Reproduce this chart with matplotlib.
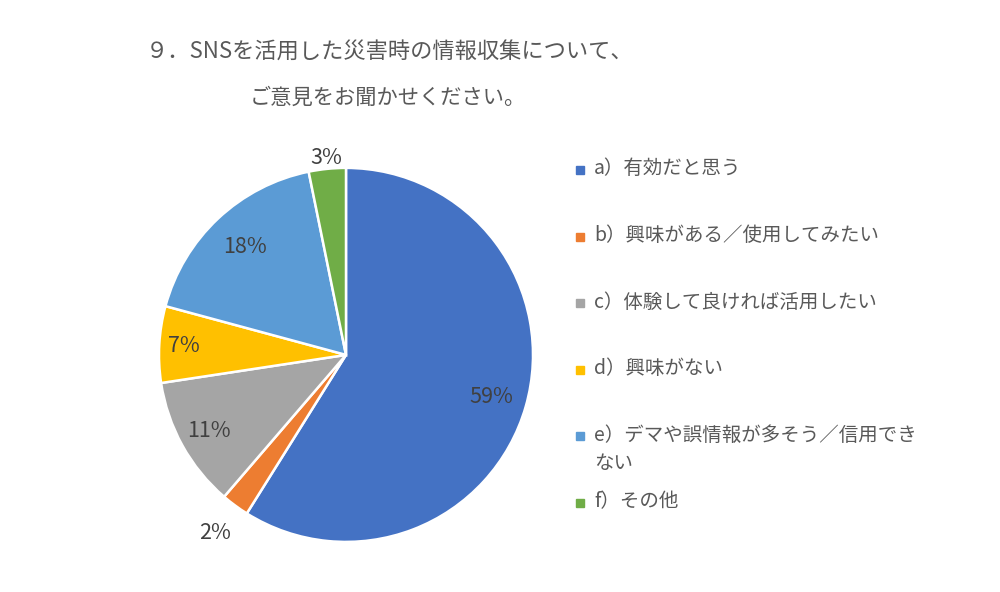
import matplotlib
matplotlib.use("Agg")
import matplotlib.pyplot as plt
from matplotlib.patches import Rectangle
import numpy as np

plt.rcParams['font.family'] = ['Noto Sans CJK JP', 'DejaVu Sans']

# answers (share of respondents, %)
labels = ["a）有効だと思う",
          "b）興味がある／使用してみたい",
          "c）体験して良ければ活用したい",
          "d）興味がない",
          "e）デマや誤情報が多そう／信用でき\nない",
          "f）その他"]
shares = [58.9, 2.4, 11.3, 6.6, 17.6, 3.2]
colors = ["#4472C4", "#ED7D31", "#A5A5A5", "#FFC000", "#5B9BD5", "#70AD47"]
# how far from the centre each % label sits (fraction of radius)
label_dist = [0.81, 1.18, 0.84, 0.87, 0.79, 1.06]

fig = plt.figure(figsize=(10, 5.92), dpi=100)
ax = fig.add_axes([0.159, 0.0845, 0.374, 0.632])

wedges, _ = ax.pie(shares, colors=colors, startangle=90, counterclock=False,
                   wedgeprops=dict(edgecolor="white", linewidth=1.8))
ax.set_xlim(-1, 1)
ax.set_ylim(-1, 1)
ax.set_aspect("equal")

for w, val, d in zip(wedges, shares, label_dist):
    mid = np.deg2rad((w.theta1 + w.theta2) / 2)
    ax.text(d * np.cos(mid), d * np.sin(mid), f"{round(val)}%",
            ha="center", va="center", fontsize=15.5, color="#404040")

# title
fig.text(0.39, 1 - 52 / 592, "９．SNSを活用した災害時の情報収集について、",
         ha="center", va="center", fontsize=16, color="#595959")
fig.text(0.388, 1 - 98 / 592, "ご意見をお聞かせください。",
         ha="center", va="center", fontsize=15.3, color="#595959")

# legend drawn by hand so the wrapped entry lines up like the original
top = 1 - 170 / 592
step = 66.6 / 592
for i, (lab, c) in enumerate(zip(labels, colors)):
    y = top - i * step
    fig.patches.append(Rectangle((0.576, y - 4 / 592), 0.008, 8 / 592,
                                 transform=fig.transFigure, color=c))
    fig.text(0.594, y + 11.5 / 592, lab, ha="left", va="top", fontsize=14,
             color="#595959", linespacing=1.45)

fig.savefig("out.png", dpi=100)
